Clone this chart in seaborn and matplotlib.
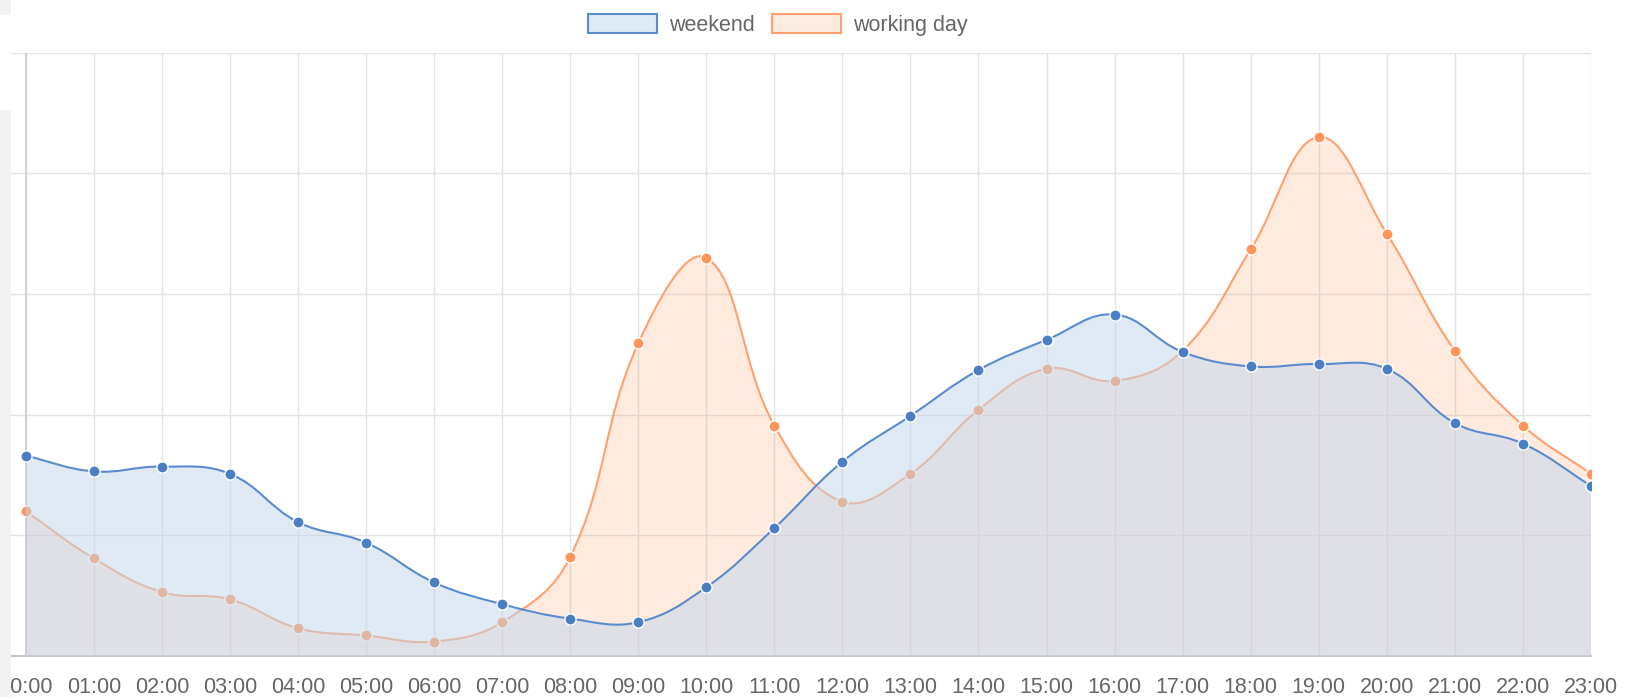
import numpy as np
import pandas as pd
import seaborn as sns
import matplotlib.pyplot as plt
from matplotlib.path import Path
from matplotlib.patches import PathPatch, Patch, Rectangle

hours = ['00:00', '01:00', '02:00', '03:00', '04:00', '05:00', '06:00', '07:00',
         '08:00', '09:00', '10:00', '11:00', '12:00', '13:00', '14:00', '15:00',
         '16:00', '17:00', '18:00', '19:00', '20:00', '21:00', '22:00', '23:00']
weekend = [1.66, 1.53, 1.57, 1.51, 1.11, 0.94, 0.61, 0.43, 0.31, 0.28, 0.57, 1.06,
           1.61, 1.99, 2.37, 2.62, 2.83, 2.52, 2.40, 2.42, 2.38, 1.93, 1.76, 1.41]
working_day = [1.20, 0.81, 0.53, 0.47, 0.23, 0.17, 0.12, 0.28, 0.82, 2.59, 3.30, 1.91,
               1.28, 1.51, 2.04, 2.38, 2.28, 2.53, 3.37, 4.30, 3.50, 2.53, 1.91, 1.51]

df = pd.DataFrame({'hour': hours, 'weekend': weekend, 'working day': working_day})
df['x'] = range(len(hours))

sns.set_style('white')
plt.rcParams['font.family'] = ['Liberation Sans', 'DejaVu Sans']

fig = plt.figure(figsize=(16.31, 6.97), dpi=100)
ax = fig.add_axes([11 / 1631, 41 / 697, 1580 / 1631, 603.3 / 697])
ax.set_xlim(-0.216, 23)
ax.set_ylim(0, 5)

# pixels per data unit, for chart.js style bezier control points
sx, sy = 68.06, 120.7


def curve_path(xs, ys, closed=False, tension=0.4):
    px = np.array(xs, dtype=float) * sx
    py = np.array(ys, dtype=float) * sy
    n = len(px)
    prev_cp, next_cp = [], []
    for i in range(n):
        p = (px[max(i - 1, 0)], py[max(i - 1, 0)])
        c = (px[i], py[i])
        nx = (px[min(i + 1, n - 1)], py[min(i + 1, n - 1)])
        d01 = np.hypot(c[0] - p[0], c[1] - p[1])
        d12 = np.hypot(nx[0] - c[0], nx[1] - c[1])
        tot = d01 + d12 if d01 + d12 else 1
        fa, fb = tension * d01 / tot, tension * d12 / tot
        prev_cp.append((c[0] - fa * (nx[0] - p[0]), c[1] - fa * (nx[1] - p[1])))
        next_cp.append((c[0] + fb * (nx[0] - p[0]), c[1] + fb * (nx[1] - p[1])))
    verts = [(px[0], py[0])]
    codes = [Path.MOVETO]
    for i in range(n - 1):
        verts += [next_cp[i], prev_cp[i + 1], (px[i + 1], py[i + 1])]
        codes += [Path.CURVE4] * 3
    if closed:
        verts += [(px[-1], 0), (px[0], 0), (px[0], py[0])]
        codes += [Path.LINETO, Path.LINETO, Path.CLOSEPOLY]
    verts = [(vx / sx, vy / sy) for vx, vy in verts]
    return Path(verts, codes)


blue_line = '#5a8bcf'
blue_pt = '#4a7fc4'
orange_line = '#ffa06e'
orange_pt = '#ff955a'

# working day first
ax.add_patch(PathPatch(curve_path(df['x'], df['working day'], closed=True),
                       facecolor=(1.0, 0.59, 0.37, 0.2), edgecolor='none', zorder=2))
ax.add_patch(PathPatch(curve_path(df['x'], df['working day']), facecolor='none',
                       edgecolor=orange_line, lw=1.5, zorder=3))
sns.scatterplot(data=df, x='x', y='working day', color=orange_pt, s=65,
                edgecolor='white', linewidth=1, ax=ax, zorder=4)

# weekend on top
ax.add_patch(PathPatch(curve_path(df['x'], df['weekend'], closed=True),
                       facecolor=(193 / 255, 215 / 255, 237 / 255, 0.5), edgecolor='none', zorder=5))
ax.add_patch(PathPatch(curve_path(df['x'], df['weekend']), facecolor='none',
                       edgecolor=blue_line, lw=1.5, zorder=6))
sns.scatterplot(data=df, x='x', y='weekend', color=blue_pt, s=65,
                edgecolor='white', linewidth=1, ax=ax, zorder=7)

ax.set_xticks(df['x'])
ax.set_xticklabels(df['hour'])
ax.set_yticks(np.arange(0, 6))
ax.set_yticklabels([])
ax.grid(True, color='#e3e3e3', lw=1)
ax.set_axisbelow(True)
ax.axvline(0, color='#cfcfcf', lw=1.3, zorder=1)
for s in ['top', 'right', 'left']:
    ax.spines[s].set_visible(False)
ax.spines['bottom'].set_color('#c8c8c8')
ax.spines['bottom'].set_linewidth(1.5)
ax.tick_params(axis='x', length=8, color='#e3e3e3', width=1, pad=7,
               labelsize=15.5, labelcolor='#666666')
ax.tick_params(axis='y', length=0)
ax.set_xlabel('')
ax.set_ylabel('')

handles = [Patch(facecolor='#dfeaf7', edgecolor=blue_line, lw=1.5, label='weekend'),
           Patch(facecolor='#fdeae0', edgecolor=orange_line, lw=1.5, label='working day')]
fig.legend(handles=handles, loc='upper center', bbox_to_anchor=(0.477, 1.008), ncol=2,
           frameon=False, fontsize=15.5, labelcolor='#666666', handlelength=3.2,
           handleheight=1.0, columnspacing=0.8, handletextpad=0.55)

# light gray strip on the left edge
fig.patches.append(Rectangle((0, 0), 11 / 1631, (697 - 110) / 697, transform=fig.transFigure,
                             facecolor='#f2f2f2', edgecolor='none'))
fig.patches.append(Rectangle((0, 1 - 15 / 697), 11 / 1631, 15 / 697, transform=fig.transFigure,
                             facecolor='#f2f2f2', edgecolor='none'))

fig.savefig('out.png', dpi=100)
